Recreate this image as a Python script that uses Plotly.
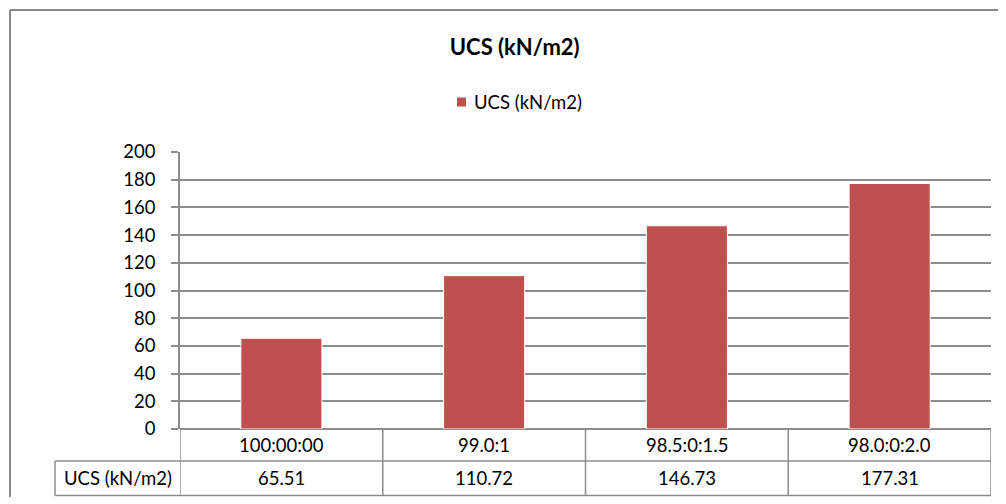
import plotly.graph_objects as go

categories = ["100:00:00", "99.0:1", "98.5:0:1.5", "98.0:0:2.0"]
ucs_values = [65.51, 110.72, 146.73, 177.31]
value_labels = ["65.51", "110.72", "146.73", "177.31"]
series_name = "UCS (kN/m2)"
y_ticks = list(range(0, 201, 20))

OFF = 8  # browser body margin
W, H = 1006 - OFF, 504 - 2 * OFF + 1
L, R, T, B = 180 - OFF, 991 - OFF, 152 - OFF, 429 - OFF  # plot area in figure pixels
pw, ph = R - L, B - T

def px(xp):
    return (xp - OFF - L) / pw

def py(yp):
    return (B - (yp - OFF)) / ph

FONT = "Lato, 'Open Sans', sans-serif"
FS = 18.5
GRID = "#8c8c8c"
BAR = "#C0504D"

fig = go.Figure()
fig.add_trace(go.Bar(
    x=list(range(len(categories))), y=ucs_values, name=series_name,
    marker=dict(color=BAR, line=dict(color="white", width=1)),
    width=0.4, showlegend=False,
))

shapes = []
annotations = []
row1_bot = py(461)
row2_bot = py(495.5)
label_left = px(55)

# outer chart border (top and left edges; others lie outside the picture)
shapes.append(dict(type="line", xref="paper", yref="paper",
                   x0=px(10), x1=px(1006), y0=py(10), y1=py(10),
                   line=dict(color="#888888", width=2), layer="below"))
shapes.append(dict(type="line", xref="paper", yref="paper",
                   x0=px(10), x1=px(10), y0=py(10), y1=py(504),
                   line=dict(color="#888888", width=2), layer="below"))

# legend (manual)
shapes.append(dict(type="rect", xref="paper", yref="paper",
                   x0=px(457), x1=px(466), y0=py(97.5), y1=py(106.5),
                   fillcolor=BAR, line=dict(width=0)))
annotations.append(dict(x=px(472), y=py(102), xref="paper", yref="paper",
                        text=series_name, showarrow=False, xanchor="left", yanchor="middle",
                        font=dict(family=FONT, size=FS, color="#000")))

# data table horizontal lines
for yb in (row1_bot, row2_bot):
    shapes.append(dict(type="line", xref="paper", yref="paper", x0=label_left, x1=1,
                       y0=yb, y1=yb, line=dict(color=GRID, width=1.5)))
shapes.append(dict(type="line", xref="paper", yref="paper", x0=label_left, x1=label_left,
                   y0=row1_bot, y1=row2_bot, line=dict(color=GRID, width=1.5)))
# vertical category boundaries in the table
for i in range(len(categories) + 1):
    xb = i - 0.5
    shapes.append(dict(type="line", xref="x", yref="paper", x0=xb, x1=xb,
                       y0=0, y1=row2_bot, line=dict(color=GRID, width=1.5)))

# table texts
for i, (c, v) in enumerate(zip(categories, value_labels)):
    annotations.append(dict(x=i, y=row1_bot / 2, xref="x", yref="paper",
                            text=c, showarrow=False, xanchor="center", yanchor="middle",
                            font=dict(family=FONT, size=FS, color="#000")))
    annotations.append(dict(x=i, y=(row1_bot + row2_bot) / 2, xref="x", yref="paper",
                            text=v, showarrow=False, xanchor="center", yanchor="middle",
                            font=dict(family=FONT, size=FS, color="#000")))
annotations.append(dict(x=label_left / 2, y=(row1_bot + row2_bot) / 2,
                        xref="paper", yref="paper", text=series_name, showarrow=False,
                        xanchor="center", yanchor="middle",
                        font=dict(family=FONT, size=FS, color="#000")))

fig.update_layout(
    width=W, height=H,
    margin=dict(l=L, r=W - R, t=T, b=H - B, pad=0),
    paper_bgcolor="white", plot_bgcolor="white",
    title=dict(text="<b>UCS (kN/m2)</b>", x=(514.7 - OFF) / W, xref="container", xanchor="center",
               y=1 - (47 - OFF) / H, yref="container", yanchor="middle",
               font=dict(family=FONT, size=22, color="#000")),
    showlegend=False,
    bargap=0.6,
    xaxis=dict(range=[-0.5, len(categories) - 0.5], showticklabels=False, showgrid=False,
               zeroline=False, showline=False, ticks=""),
    yaxis=dict(range=[0, 200], tickvals=y_ticks, showgrid=True, gridcolor=GRID, gridwidth=1.5,
               zeroline=True, zerolinecolor=GRID, zerolinewidth=1.5,
               showline=True, linecolor=GRID, linewidth=1.5,
               ticks="outside", ticklen=7, tickcolor=GRID, tickwidth=1.5,
               tickfont=dict(family=FONT, size=FS, color="#000"), ticklabelstandoff=12),
    shapes=shapes, annotations=annotations,
    font=dict(family=FONT),
)

fig.write_html("out.html")
